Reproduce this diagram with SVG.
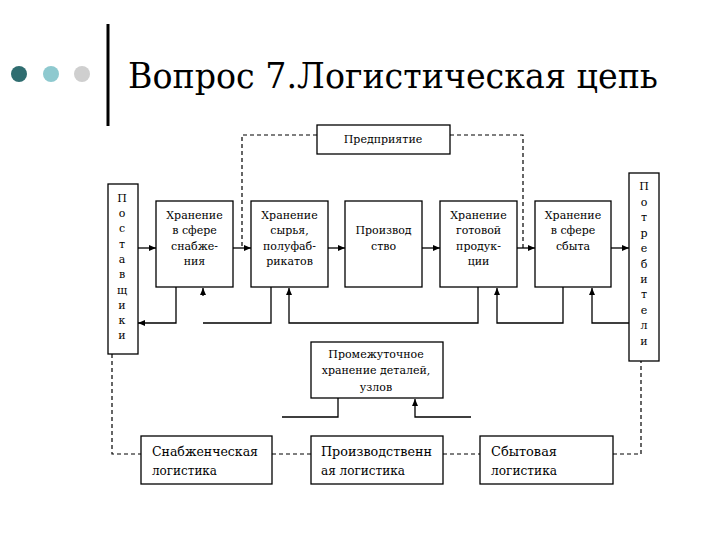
<svg xmlns="http://www.w3.org/2000/svg" width="720" height="540" viewBox="0 0 720 540">
<defs>
<marker id="arr" markerUnits="userSpaceOnUse" markerWidth="7" markerHeight="6" refX="7" refY="3" orient="auto">
<path d="M0,0 L7,3 L0,6 z" fill="#000"/>
</marker>
<style>
.box{fill:#fff;stroke:#000;stroke-width:1.3}
.t{font-family:"DejaVu Serif","Liberation Serif",serif;font-size:11px;fill:#000;text-anchor:middle}
.tl{font-family:"DejaVu Serif","Liberation Serif",serif;font-size:13.5px;fill:#000}
.ttl{font-family:"DejaVu Serif","Liberation Serif",serif;font-size:36px;fill:#000}
.ln{fill:none;stroke:#000;stroke-width:1.3}
.ar{fill:none;stroke:#000;stroke-width:1.3;marker-end:url(#arr)}
.dash{fill:none;stroke:#000;stroke-width:1.2;stroke-dasharray:4 3}
</style>
</defs>
<rect width="720" height="540" fill="#fff"/>
<g id="header">
<circle cx="19" cy="74" r="8" fill="#2f6d70"/>
<circle cx="51" cy="74" r="8" fill="#8ec9cf"/>
<circle cx="82" cy="74" r="8" fill="#cfcfcf"/>
<rect x="106.5" y="24" width="3" height="102" fill="#000"/>
<text class="ttl" x="128" y="88" textLength="530" lengthAdjust="spacingAndGlyphs">Вопрос 7.Логистическая цепь</text>
</g>
<g id="connectors">
<path class="dash" d="M317,135 H242 V248"/>
<path class="dash" d="M450,135 H523 V248"/>
<path class="ar" d="M137,248 H156"/>
<path class="ar" d="M233,248 H251"/>
<path class="ar" d="M328,248 H345"/>
<path class="ar" d="M422,248 H440"/>
<path class="ar" d="M517,248 H535"/>
<path class="ar" d="M611,248 H629"/>
<path class="ar" d="M176,287 V323 H138"/>
<path class="ln" d="M271,287 V323 H203"/>
<path class="ar" d="M203,296 V288"/>
<path class="ar" d="M478,287 V323 H289 V288"/>
<path class="ar" d="M563,287 V323 H497 V288"/>
<path class="ar" d="M629,323 H592 V288"/>
<path class="ln" d="M338,398 V417 H282"/>
<path class="ar" d="M471,417 H415 V399"/>
<path class="dash" d="M112,354 V454 H141"/>
<path class="dash" d="M272,454 H311"/>
<path class="dash" d="M443,454 H480"/>
<path class="dash" d="M613,454 H641 V361"/>
</g>
<g id="predpriyatie">
<rect class="box" x="317" y="125" width="133" height="29"/>
<text class="t" x="383" y="143">Предприятие</text>
</g>
<g id="postavshiki">
<rect class="box" x="108" y="184" width="30" height="170"/>
<text class="t">
<tspan x="122" y="202">П</tspan><tspan x="122" y="217">о</tspan><tspan x="122" y="232">с</tspan><tspan x="122" y="248">т</tspan><tspan x="122" y="263">а</tspan><tspan x="122" y="278">в</tspan><tspan x="122" y="294">щ</tspan><tspan x="122" y="309">и</tspan><tspan x="122" y="324">к</tspan><tspan x="122" y="339">и</tspan>
</text>
</g>
<g id="box1">
<rect class="box" x="156" y="201" width="77" height="86"/>
<text class="t"><tspan x="194.5" y="219">Хранение</tspan><tspan x="194.5" y="234">в сфере</tspan><tspan x="194.5" y="250">снабже-</tspan><tspan x="194.5" y="265">ния</tspan></text>
</g>
<g id="box2">
<rect class="box" x="251" y="201" width="77" height="86"/>
<text class="t"><tspan x="289.5" y="219">Хранение</tspan><tspan x="289.5" y="234">сырья,</tspan><tspan x="289.5" y="250">полуфаб-</tspan><tspan x="289.5" y="265">рикатов</tspan></text>
</g>
<g id="box3">
<rect class="box" x="345" y="201" width="77" height="86"/>
<text class="t"><tspan x="383.5" y="234">Производ</tspan><tspan x="383.5" y="250">ство</tspan></text>
</g>
<g id="box4">
<rect class="box" x="440" y="201" width="77" height="86"/>
<text class="t"><tspan x="478.5" y="219">Хранение</tspan><tspan x="478.5" y="234">готовой</tspan><tspan x="478.5" y="250">продук-</tspan><tspan x="478.5" y="265">ции</tspan></text>
</g>
<g id="box5">
<rect class="box" x="535" y="201" width="76" height="86"/>
<text class="t"><tspan x="573" y="219">Хранение</tspan><tspan x="573" y="234">в сфере</tspan><tspan x="573" y="250">сбыта</tspan></text>
</g>
<g id="potrebiteli">
<rect class="box" x="629" y="173" width="30" height="188"/>
<text class="t">
<tspan x="644" y="190">П</tspan><tspan x="644" y="206">о</tspan><tspan x="644" y="221">т</tspan><tspan x="644" y="237">р</tspan><tspan x="644" y="252">е</tspan><tspan x="644" y="268">б</tspan><tspan x="644" y="283">и</tspan><tspan x="644" y="298">т</tspan><tspan x="644" y="314">е</tspan><tspan x="644" y="329">л</tspan><tspan x="644" y="345">и</tspan>
</text>
</g>
<g id="promezhutochnoe">
<rect class="box" x="311" y="342" width="132" height="56"/>
<text class="t"><tspan x="376" y="358">Промежуточное</tspan><tspan x="376" y="374">хранение деталей,</tspan><tspan x="376" y="391">узлов</tspan></text>
</g>
<g id="snab">
<rect class="box" x="141" y="436" width="131" height="48"/>
<text class="tl" x="152" y="456" textLength="106" lengthAdjust="spacingAndGlyphs">Снабженческая</text>
<text class="tl" x="152" y="475" textLength="65" lengthAdjust="spacingAndGlyphs">логистика</text>
</g>
<g id="proizv">
<rect class="box" x="311" y="436" width="132" height="48"/>
<text class="tl" x="321" y="456" textLength="111" lengthAdjust="spacingAndGlyphs">Производственн</text>
<text class="tl" x="321" y="475" textLength="84" lengthAdjust="spacingAndGlyphs">ая логистика</text>
</g>
<g id="sbyt">
<rect class="box" x="480" y="436" width="133" height="48"/>
<text class="tl" x="491" y="456" textLength="66" lengthAdjust="spacingAndGlyphs">Сбытовая</text>
<text class="tl" x="491" y="475" textLength="66" lengthAdjust="spacingAndGlyphs">логистика</text>
</g>
</svg>
